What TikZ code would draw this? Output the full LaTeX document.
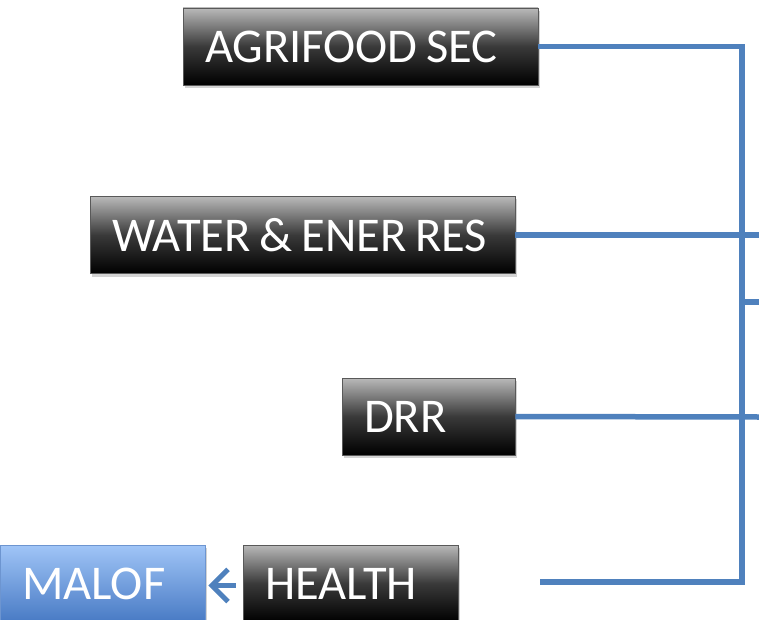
\documentclass[tikz,border=0pt]{standalone}
\usepackage{fontspec}
\setmainfont{Carlito}[WordSpace=0.8]
\usetikzlibrary{arrows.meta,shadows}
\definecolor{linkblue}{RGB}{79,129,189}
\definecolor{maloftop}{RGB}{160,197,247}
\definecolor{malofbot}{RGB}{72,122,196}
\tikzset{
  sector/.style={rectangle, draw=gray!70!black, line width=0.8pt,
    top color=gray!55, bottom color=black, middle color=gray!45!black,
    text=white, inner xsep=22pt, inner ysep=0pt,
    minimum height=77pt, font=\fontsize{48.5}{50}\selectfont,
    drop shadow={opacity=0.35, shadow xshift=2pt, shadow yshift=-3pt}},
  target/.style={sector, draw=malofbot!80!white,
    top color=maloftop, middle color=maloftop!50!malofbot, bottom color=malofbot},
  link/.style={draw=linkblue, line width=5.5pt}
}
\newcommand\boxtext[2]{\makebox[\dimexpr#1pt-44pt\relax][l]{#2}}
\begin{document}
\begin{tikzpicture}[x=1pt,y=-1pt]
\useasboundingbox (0,0) rectangle (759,620);
% sector boxes: name/centre x/centre y/width/label
\foreach \n/\x/\y/\w/\t in {agri/360.5/46.5/355/AGRIFOOD SEC,
    water/302.5/235/425/WATER \& ENER RES,
    drr/428.5/416.5/173/DRR,
    health/350.5/583.5/215/HEALTH}
  \node[sector] (\n) at (\x,\y) {\boxtext{\w}{\t}};
\node[target] (malof) at (102.5,583.5) {\boxtext{205}{MALOF}};
% bus on the right
\coordinate (corner) at (742,582);
\coordinate (busend) at (540,582);
\coordinate (stub) at (742,302);
\coordinate (waterout) at (759,235);
\coordinate (drrout) at (759,417);
\coordinate (stubout) at (759,302);
\draw[link] (agri.east) -| (corner) -- (busend);
\draw[link] (water.east) -- (waterout);
\draw[link] (drr.east) -- (drrout);
\draw[link] (stub) -- (stubout);
\draw[link, line width=5pt, -{Straight Barb[scale=1.4,line width=5pt]}, shorten <=7pt, shorten >=3pt]
  ([yshift=-2pt]health.west) -- ([yshift=-2pt]malof.east);
\end{tikzpicture}
\end{document}
